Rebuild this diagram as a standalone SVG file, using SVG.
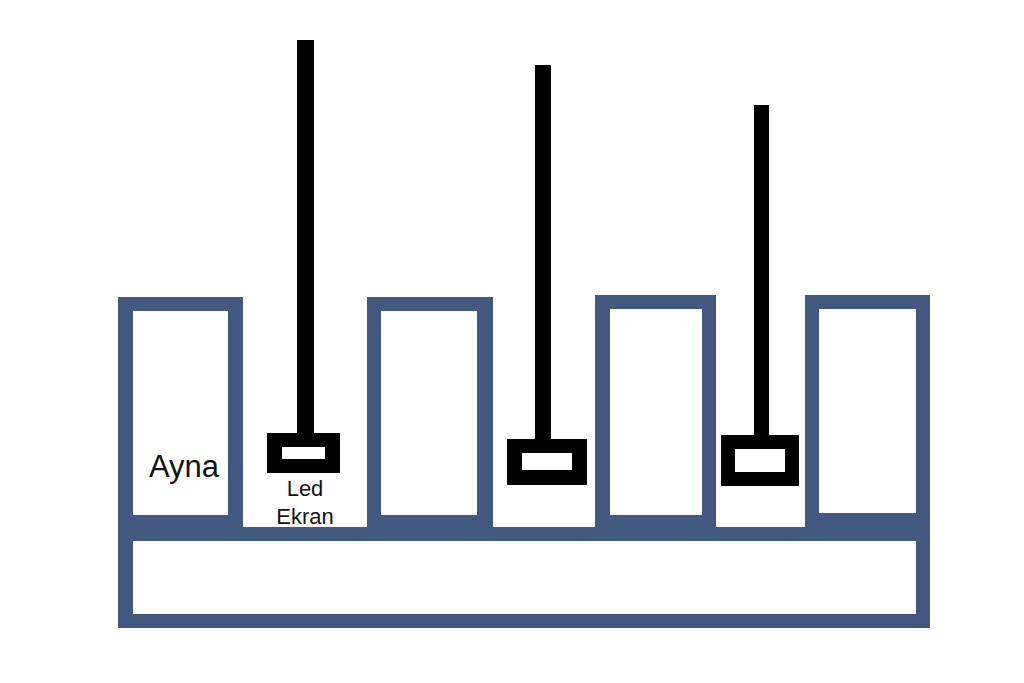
<svg xmlns="http://www.w3.org/2000/svg" width="1024" height="683" viewBox="0 0 1024 683">
<style>
.frame{fill:#42587f}
.hole{fill:#ffffff}
.blk{fill:#000000}
.lbl{font-family:"Liberation Sans",Arial,sans-serif;fill:#111111}
</style>
<rect width="1024" height="683" fill="#ffffff"/>
<g id="base">
<rect class="frame" x="118" y="527" width="812" height="101"/>
<rect class="hole" x="133" y="541" width="783" height="73"/>
</g>
<g id="ayna">
<rect class="frame" x="118" y="297" width="125" height="231"/>
<rect class="hole" x="133" y="311" width="95" height="204"/>
<text class="lbl" x="149" y="477" font-size="31">Ayna</text>
</g>
<g id="box2">
<rect class="frame" x="367" y="297" width="126" height="231"/>
<rect class="hole" x="381" y="311" width="96" height="204"/>
</g>
<g id="box3">
<rect class="frame" x="595" y="295" width="121" height="233"/>
<rect class="hole" x="610" y="309" width="92" height="206"/>
</g>
<g id="box4">
<rect class="frame" x="805" y="295" width="125" height="233"/>
<rect class="hole" x="819" y="309" width="97" height="204"/>
</g>
<g id="led1">
<rect class="blk" x="297" y="40" width="17" height="394"/>
<rect class="blk" x="267" y="433" width="73" height="40"/>
<rect class="hole" x="282" y="447" width="43" height="12"/>
<text class="lbl" x="305" y="496" font-size="22" text-anchor="middle">Led</text>
<text class="lbl" x="305" y="524" font-size="22" text-anchor="middle">Ekran</text>
</g>
<g id="led2">
<rect class="blk" x="535" y="65" width="16" height="375"/>
<rect class="blk" x="507" y="439" width="80" height="46"/>
<rect class="hole" x="522" y="453" width="50" height="17"/>
</g>
<g id="led3">
<rect class="blk" x="754" y="105" width="15" height="331"/>
<rect class="blk" x="721" y="435" width="78" height="51"/>
<rect class="hole" x="735" y="449" width="50" height="23"/>
</g>
<g id="connectors"/>
</svg>
